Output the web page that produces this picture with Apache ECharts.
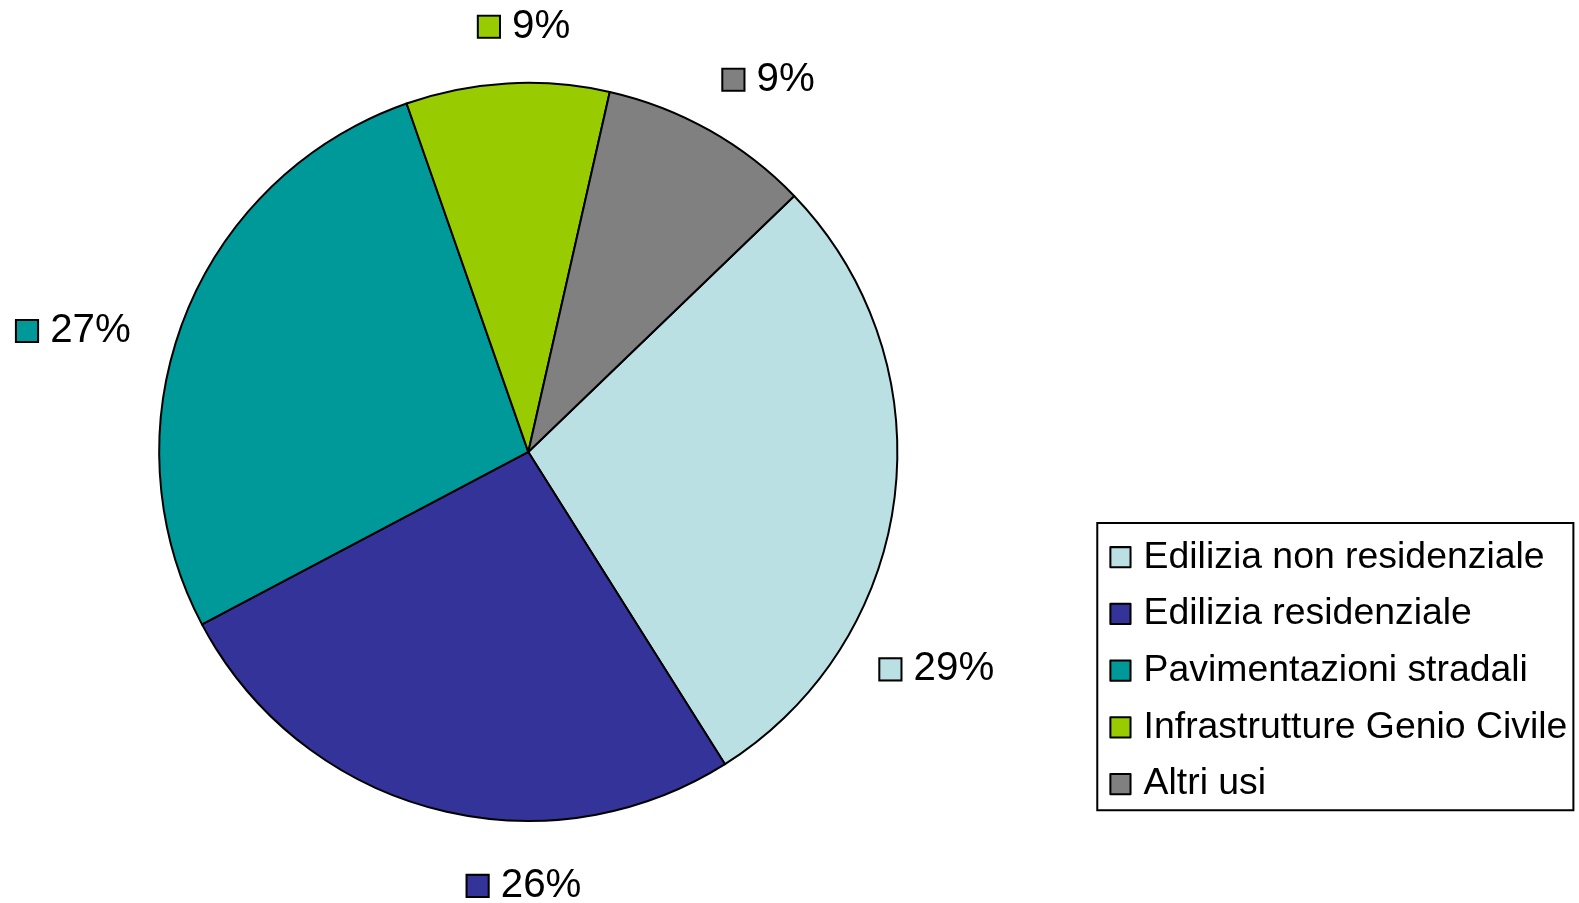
<!DOCTYPE html>
<html>
<head>
<meta charset="utf-8">
<script src="https://cdn.jsdelivr.net/npm/echarts@6/dist/echarts.min.js"></script>
<style>html,body{margin:0;padding:0;background:#fff;overflow:hidden}#c{width:1579px;height:903px}</style>
</head>
<body>
<div id="c"></div>
<script>
const categories = ['Edilizia non residenziale','Edilizia residenziale','Pavimentazioni stradali','Infrastrutture Genio Civile','Altri usi'];
const values = [28.25, 26.21, 27.39, 8.89, 9.26];
const percentLabels = ['29%', '26%', '27%', '9%', '9%'];
const colors = ['#BBE0E3','#333399','#009999','#99CC00','#808080'];
// label placement (angle clockwise from 12 o'clock, distance as fraction of radius)
const labelAngle = [118, 180.5, 284.9, 359.5, 32.9];
const labelDist = [1.255, 1.176, 1.274, 1.152, 1.201];

const FONT = "'Liberation Sans', Arial, sans-serif";
const el = document.getElementById('c');
const chart = echarts.init(el, null, { renderer: 'canvas' });
const s = 1.0076;
const CX = 524.3 * s, CY = 448.5 * s, R = 366.3 * s;

const rich = {};
colors.forEach((c, i) => {
  rich['s' + i] = { width: 20 * s, height: 20 * s, backgroundColor: c, borderColor: '#000', borderWidth: 2 * s };
});
rich.t = { fontSize: 40 * s, fontFamily: FONT, color: '#000', padding: [0, 0, 0, 13 * s] };

chart.setOption({
  animation: false,
  backgroundColor: '#fff',
  color: colors,
  legend: {
    orient: 'vertical',
    left: 1089 * s,
    top: 519 * s,
    icon: 'rect',
    itemWidth: 20 * s,
    itemHeight: 20 * s,
    itemGap: 16.3 * s,
    padding: [14 * s, 6 * s, 6 * s, 12 * s],
    borderColor: '#000',
    borderWidth: 2 * s,
    backgroundColor: '#fff',
    itemStyle: { borderColor: '#000', borderWidth: 2 * s },
    textStyle: { fontSize: 37.1 * s, fontFamily: FONT, color: '#000', lineHeight: 40 * s, padding: [0, 0, 0, 8 * s] },
    data: categories
  },
  series: [{
    type: 'pie',
    center: [CX, CY],
    radius: R,
    startAngle: 43.91,
    clockwise: true,
    avoidLabelOverlap: false,
    itemStyle: { borderColor: '#000', borderWidth: 2 },
    emphasis: { disabled: true },
    label: {
      show: true,
      position: 'outside',
      formatter: p => '{s' + p.dataIndex + '|}{t|' + percentLabels[p.dataIndex] + '}',
      rich: rich
    },
    labelLine: { show: false },
    labelLayout: function (p) {
      const i = p.dataIndex;
      const a = labelAngle[i] * Math.PI / 180;
      const d = labelDist[i] * R;
      return { x: CX + d * Math.sin(a), y: CY - d * Math.cos(a), align: 'center', verticalAlign: 'middle' };
    },
    data: categories.map((n, i) => ({ name: n, value: values[i] }))
  }]
});
</script>
</body>
</html>
